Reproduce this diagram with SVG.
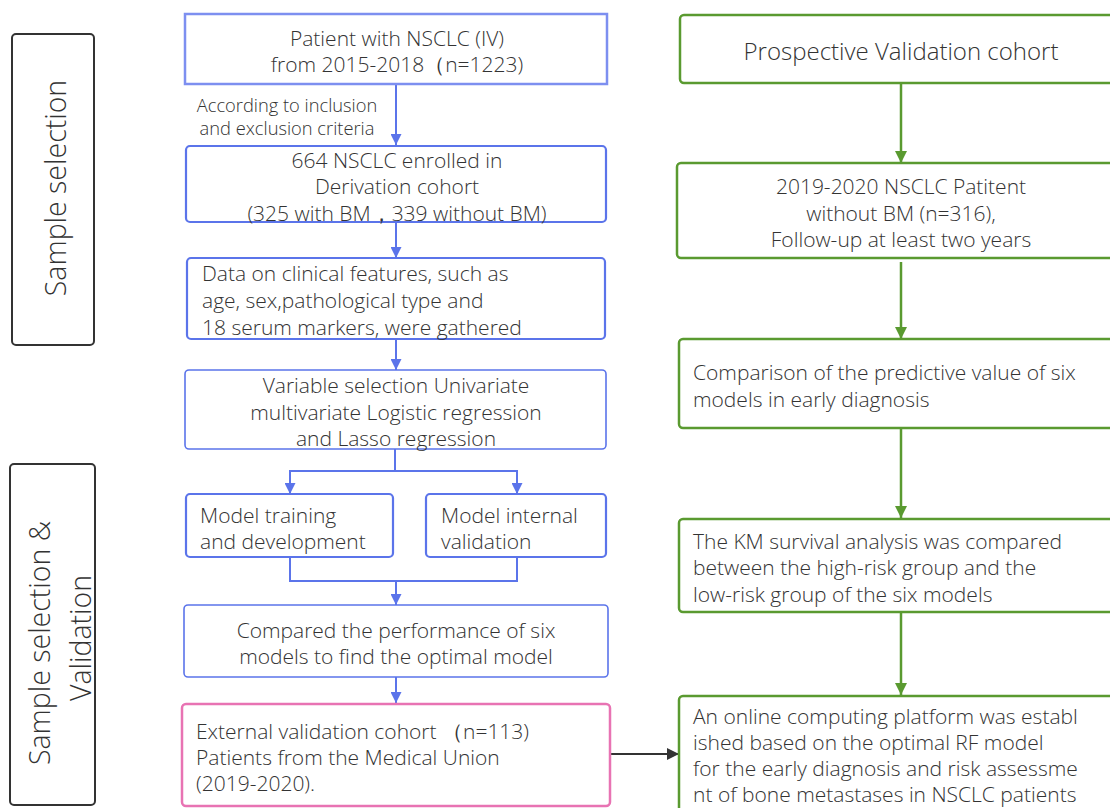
<svg xmlns="http://www.w3.org/2000/svg" width="1110" height="808" viewBox="0 0 1110 808">
<defs>
<style>
text{font-family:"Open Sans","Noto Sans","Liberation Sans",sans-serif;font-weight:300;fill:#333;font-size:21px;dominant-baseline:central}
.c{text-anchor:middle}
.side{fill:#fff;stroke:#333;stroke-width:2}
.blue{fill:#fff;stroke:#5b74ea;stroke-width:2.2}
.green{fill:#fff;stroke:#5a9a30;stroke-width:2.5}
.pink{fill:#fff;stroke:#e873b3;stroke-width:2.5}
.lb{fill:none;stroke:#5b74ea;stroke-width:2}
.lg{fill:none;stroke:#5a9a30;stroke-width:2.5}
.lk{fill:none;stroke:#333;stroke-width:2}
.rot{font-size:28.5px}
</style>
<marker id="ab" viewBox="0 0 10 10" refX="10" refY="5" markerWidth="5.5" markerHeight="5.5" markerUnits="strokeWidth" orient="auto"><path d="M0,0 L10,5 L0,10 z" fill="#5b74ea"/></marker>
<marker id="ag" viewBox="0 0 10 10" refX="10" refY="5" markerWidth="5" markerHeight="5" markerUnits="strokeWidth" orient="auto"><path d="M0,0 L10,5 L0,10 z" fill="#5a9a30"/></marker>
<marker id="ak" viewBox="0 0 10 10" refX="10" refY="5" markerWidth="6" markerHeight="6" markerUnits="strokeWidth" orient="auto"><path d="M0,0 L10,5 L0,10 z" fill="#333"/></marker>
</defs>

<g id="side1">
<rect class="side" x="12" y="34" width="82" height="311" rx="4"/>
<text class="c rot" transform="translate(55,188) rotate(-90)">Sample selection</text>
</g>
<g id="side2">
<rect class="side" x="10" y="464" width="85" height="341" rx="4"/>
<text class="c rot" transform="translate(39,643) rotate(-90)">Sample selection &amp;</text>
<text class="c rot" transform="translate(80,638) rotate(-90)">Validation</text>
</g>

<g id="connectors">
<line class="lb" x1="396" y1="84" x2="396" y2="145" marker-end="url(#ab)"/>
<line class="lb" x1="396" y1="222" x2="396" y2="258" marker-end="url(#ab)"/>
<line class="lb" x1="396" y1="339" x2="396" y2="370" marker-end="url(#ab)"/>
<path class="lb" d="M395,449 V471 H290 V494" marker-end="url(#ab)"/>
<path class="lb" d="M395,449 V471 H517 V494" marker-end="url(#ab)"/>
<path class="lb" d="M290,557 V581 H517 V557"/>
<line class="lb" x1="396" y1="581" x2="396" y2="605" marker-end="url(#ab)"/>
<line class="lb" x1="396" y1="677" x2="396" y2="703" marker-end="url(#ab)"/>
<line class="lk" x1="611" y1="754" x2="679" y2="754" marker-end="url(#ak)"/>
<line class="lg" x1="901" y1="83" x2="901" y2="163" marker-end="url(#ag)"/>
<line class="lg" x1="901" y1="262" x2="901" y2="339" marker-end="url(#ag)"/>
<line class="lg" x1="901" y1="429" x2="901" y2="518" marker-end="url(#ag)"/>
<line class="lg" x1="901" y1="612" x2="901" y2="695" marker-end="url(#ag)"/>
<text x="287" y="104" class="c" style="font-size:18.3px">According to inclusion</text>
<text x="287" y="127" class="c" style="font-size:18.3px">and exclusion criteria</text>
</g>

<g id="b1">
<rect class="blue" x="185" y="14" width="422" height="70" style="stroke:#7d8ff0;stroke-width:2.5"/>
<text class="c" x="397" y="38">Patient with NSCLC (IV)</text>
<text class="c" x="397" y="64">from 2015-2018（n=1223)</text>
</g>
<g id="b2">
<rect class="blue" x="186" y="146" width="420" height="76" rx="4"/>
<text class="c" x="397" y="160">664 NSCLC enrolled in</text>
<text class="c" x="397" y="186">Derivation cohort</text>
<text class="c" x="397" y="213">(325 with BM，339 without BM)</text>
</g>
<g id="b3">
<rect class="blue" x="187" y="258" width="418" height="81" rx="4"/>
<text x="202" y="273">Data on clinical features, such as</text>
<text x="202" y="300">age, sex,pathological type and</text>
<text x="202" y="327">18 serum markers, were gathered</text>
</g>
<g id="b4">
<rect class="blue" x="185" y="370" width="421" height="79" rx="4" style="stroke-width:1.6"/>
<text class="c" x="396" y="385">Variable selection Univariate</text>
<text class="c" x="396" y="412">multivariate Logistic regression</text>
<text class="c" x="396" y="438">and Lasso regression</text>
</g>
<g id="b5">
<rect class="blue" x="186" y="494" width="207" height="63" rx="4"/>
<text x="200" y="515">Model training</text>
<text x="200" y="541">and development</text>
</g>
<g id="b6">
<rect class="blue" x="426" y="494" width="180" height="63" rx="4"/>
<text x="441" y="515">Model internal</text>
<text x="441" y="541">validation</text>
</g>
<g id="b7">
<rect class="blue" x="184" y="605" width="424" height="72" rx="4" style="stroke-width:1.6"/>
<text class="c" x="396" y="630">Compared the performance of six</text>
<text class="c" x="396" y="656">models to find the optimal model</text>
</g>
<g id="b8">
<rect class="pink" x="182" y="704" width="428" height="102" rx="4"/>
<text x="196" y="731">External validation cohort （n=113)</text>
<text x="196" y="757">Patients from the Medical Union</text>
<text x="196" y="783">(2019-2020).</text>
</g>

<g id="r1">
<rect class="green" x="680" y="15" width="440" height="68" rx="4"/>
<text class="c" x="901" y="50" style="font-size:24px">Prospective Validation cohort</text>
</g>
<g id="r2">
<rect class="green" x="677" y="163" width="443" height="95" rx="4"/>
<text class="c" x="901" y="186">2019-2020 NSCLC Patitent</text>
<text class="c" x="901" y="213">without BM (n=316),</text>
<text class="c" x="901" y="239">Follow-up at least two years</text>
</g>
<g id="r3">
<rect class="green" x="679" y="339" width="441" height="89" rx="4"/>
<text x="693" y="372">Comparison of the predictive value of six</text>
<text x="693" y="399">models in early diagnosis</text>
</g>
<g id="r4">
<rect class="green" x="679" y="519" width="441" height="93" rx="4"/>
<text x="693" y="541">The KM survival analysis was compared</text>
<text x="693" y="567">between the high-risk group and the</text>
<text x="693" y="594">low-risk group of the six models</text>
</g>
<g id="r5">
<rect class="green" x="679" y="696" width="441" height="130" rx="4"/>
<text x="693" y="716">An online computing platform was establ</text>
<text x="693" y="742">ished based on the optimal RF model</text>
<text x="693" y="768">for the early diagnosis and risk assessme</text>
<text x="693" y="794">nt of bone metastases in NSCLC patients</text>
</g>
</svg>
